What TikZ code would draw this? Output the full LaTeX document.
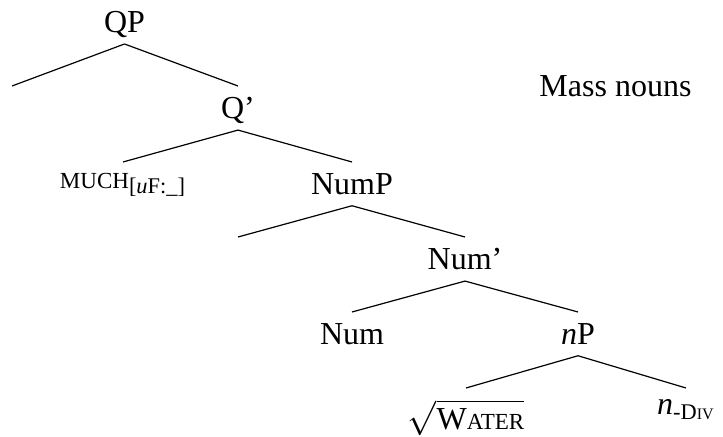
\documentclass[tikz,border=0pt]{standalone}
\usepackage{fontspec}
\setmainfont{Liberation Serif}
\newcommand{\fakesc}[1]{{\fontsize{11.5}{12}\selectfont #1}}
\tikzset{>=latex}
\tikzset{cat/.style={font=\fontsize{16}{19}\selectfont, inner xsep=0pt, inner ysep=5.5pt, text depth=0pt, anchor=north}}
\tikzset{branch/.style={line width=0.6pt}}

\begin{document}
\begin{tikzpicture}[x=0.5pt,y=-0.5pt]
  \useasboundingbox (0,0) rectangle (723,437);
  % labels of the tree
  \node[cat] (QP) at (124.5,0) {QP};
  \coordinate (specQ) at (12,86);
  \node[cat] (Qbar) at (238,86) {Q'};
  \node[cat] (much) at (123,162) {\fakesc{MUCH}\textsubscript{[\textit{u}F:\_]}};
  \node[cat] (NumP) at (352,162) {NumP};
  \coordinate (specNum) at (238,237);
  \node[cat] (Numbar) at (465,237) {Num'};
  \node[cat] (Num) at (352,312) {Num};
  \node[cat] (nP) at (578,312) {\textit{n}P};
  \node[cat] (water) at (466,388) {$\sqrt{\mbox{W\fakesc{ATER}}}$};
  \node[cat] (ndiv) at (686,388) {\textit{n}\textsubscript{-D{\fontsize{8}{9}\selectfont IV}}};
  % title
  \node[cat] (mass) at (615.5,64) {Mass nouns};
  % branches
  \draw[branch] (QP.south) -- (specQ);
  \draw[branch] (QP.south) -- (Qbar.north);
  \draw[branch] (Qbar.south) -- (much.north);
  \draw[branch] (Qbar.south) -- (NumP.north);
  \draw[branch] (NumP.south) -- (specNum);
  \draw[branch] (NumP.south) -- (Numbar.north);
  \draw[branch] (Numbar.south) -- (Num.north);
  \draw[branch] (Numbar.south) -- (nP.north);
  \draw[branch] (nP.south) -- (water.north);
  \draw[branch] (nP.south) -- (ndiv.north);
\end{tikzpicture}
\end{document}
